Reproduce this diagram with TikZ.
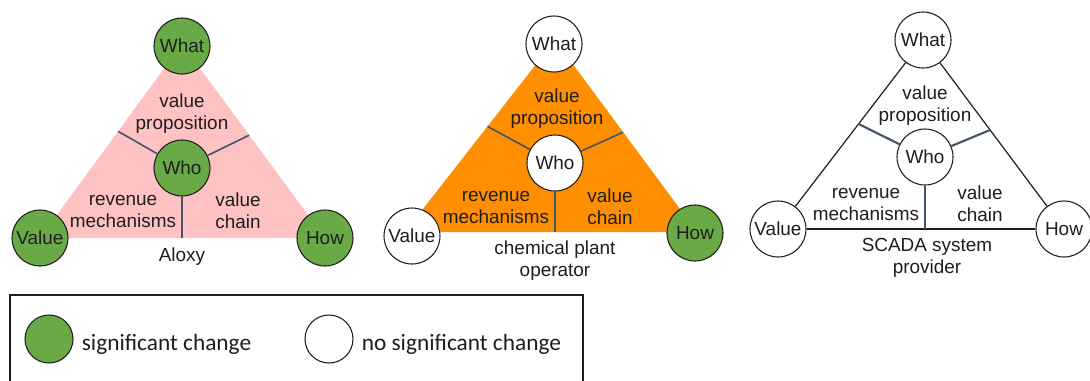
\documentclass[tikz,border=0pt]{standalone}
\usepackage{fontspec}
\setmainfont{Liberation Sans}
\newfontfamily\keyfont{Carlito}
\usetikzlibrary{calc,positioning}
\definecolor{ink}{HTML}{1E1E1E}
\definecolor{leafgreen}{HTML}{6AAA46}
\definecolor{blush}{HTML}{FFC2C2}
\definecolor{amber}{HTML}{FF8F00}
\definecolor{slate}{HTML}{44546A}

\begin{document}
\begin{tikzpicture}[x=0.75pt,y=-0.75pt,text=ink,
  font=\fontsize{14.2}{16.5}\selectfont,
  hub/.style={circle,draw=ink,line width=0.8pt,minimum size=42pt,inner sep=0pt,fill=white},
  changed/.style={hub,fill=leafgreen},
  divider/.style={slate,line width=1.2pt},
  txt/.style={align=center,inner sep=0pt}]
  \useasboundingbox (0,0) rectangle (1090,380);

  % (1) Aloxy
  \coordinate (topA) at (182,44);
  \coordinate (leftA) at (40,238);
  \coordinate (rightA) at (325,238);
  \fill[blush] (topA) -- (leftA) -- (rightA) -- cycle;
  \node[changed] (whoA) at (182,168) {Who};
  \draw[divider] (whoA) -- ($(leftA)!.55!(topA)$);
  \draw[divider] (whoA) -- ($(rightA)!.53!(topA)$);
  \draw[divider] (whoA) -- (whoA |- leftA);
  \node[changed] (whatA) at (182,46) {What};
  \node[changed] (valA) at (40,238) {Value};
  \node[changed] (howA) at (325,238) {How};
  \node[txt] (vpA) at (182,114) {value\\proposition};
  \node[txt] (rmA) at (123,211) {revenue\\mechanisms};
  \node[txt] (vcA) at (238,211) {value\\chain};
  \node[txt] (capA) at (182,257) {Aloxy};

  % (2) chemical plant operator
  \coordinate (topB) at (555,40);
  \coordinate (leftB) at (405,232);
  \coordinate (rightB) at (697,232);
  \fill[amber] (topB) -- (leftB) -- (rightB) -- cycle;
  \node[hub] (whoB) at (555,163) {Who};
  \draw[divider] (whoB) -- ($(leftB)!.55!(topB)$);
  \draw[divider] (whoB) -- ($(rightB)!.52!(topB)$);
  \draw[divider] (whoB) -- (whoB |- leftB);
  \node[hub] (whatB) at (554,44) {What};
  \node[hub] (valB) at (412,236) {Value};
  \node[changed] (howB) at (695,233) {How};
  \node[txt] (vpB) at (557,109) {value\\proposition};
  \node[txt] (rmB) at (496,207) {revenue\\mechanisms};
  \node[txt] (vcB) at (610,207) {value\\chain};
  \node[txt] (capB) at (555,261) {chemical plant\\operator};

  % (3) SCADA system provider
  \node[hub] (whatC) at (923,40) {What};
  \node[hub] (whoC) at (925,157) {Who};
  \node[hub] (valC) at (778,229) {Value};
  \node[hub] (howC) at (1064,229) {How};
  \draw[ink,line width=0.9pt] (whatC) -- (valC);
  \draw[ink,line width=0.9pt] (valC) -- (howC);
  \draw[ink,line width=0.9pt] (howC) -- (whatC);
  \draw[divider,line width=1.6pt] (whoC) -- ($(valC)!.556!(whatC)$);
  \draw[divider,line width=1.6pt] (whoC) -- ($(howC)!.524!(whatC)$);
  \draw[divider,line width=1.6pt] (whoC) -- (whoC |- valC);
  \node[txt] (vpC) at (925,106) {value\\proposition};
  \node[txt] (rmC) at (866,204) {revenue\\mechanisms};
  \node[txt] (vcC) at (980,204) {value\\chain};
  \node[txt] (capC) at (927,258) {SCADA system\\provider};

  % legend
  \draw[ink,line width=0.8pt] (10,382) |- (583,295) -- (583,382);
  \node[changed,minimum size=36pt] (keySig) at (49,339) {};
  \node[hub,minimum size=36pt] (keyNone) at (329,339) {};
  \node[right=6pt of keySig,yshift=-4pt,inner sep=0pt,font=\keyfont\fontsize{17.5}{20}\selectfont] (keySigTxt) {significant change};
  \node[right=6pt of keyNone,yshift=-4pt,inner sep=0pt,font=\keyfont\fontsize{17.5}{20}\selectfont] (keyNoneTxt) {no significant change};
\end{tikzpicture}
\end{document}
